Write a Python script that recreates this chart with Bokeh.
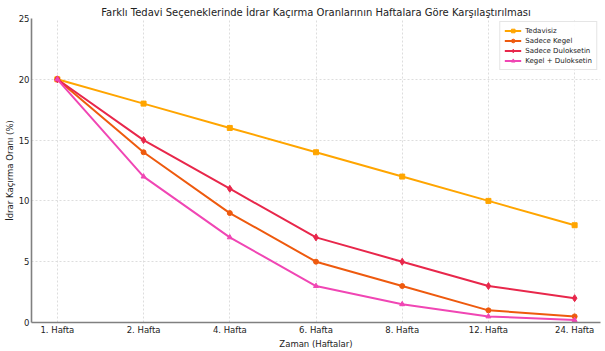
from bokeh.plotting import figure
from bokeh.models import FixedTicker, Range1d, Legend, LegendItem
from bokeh.embed import file_html
from bokeh.resources import INLINE

weeks = ["1. Hafta", "2. Hafta", "4. Hafta", "6. Hafta", "8. Hafta", "12. Hafta", "24. Hafta"]
tedavisiz = [20, 18, 16, 14, 12, 10, 8]
sadece_kegel = [20, 14, 9, 5, 3, 1, 0.5]
sadece_duloksetin = [20, 15, 11, 7, 5, 3, 2]
kegel_duloksetin = [20, 12, 7, 3, 1.5, 0.5, 0.2]

series = [
    ("Tedavisiz", tedavisiz, "#FFA500", "square"),
    ("Sadece Kegel", sadece_kegel, "#EE5A0E", "circle"),
    ("Sadece Duloksetin", sadece_duloksetin, "#E8274B", "diamond"),
    ("Kegel + Duloksetin", kegel_duloksetin, "#F046B4", "triangle"),
]

FONT = "DejaVu Sans"
xs = list(range(len(weeks)))

p = figure(width=605, height=351, output_backend="svg", toolbar_location=None,
           x_range=Range1d(-0.3, len(weeks) - 1 + 0.3), y_range=Range1d(0, 25),
           min_border_left=31, min_border_right=5, min_border_top=18, min_border_bottom=28)

p.title.text = "Farklı Tedavi Seçeneklerinde İdrar Kaçırma Oranlarının Haftalara Göre Karşılaştırılması"
p.title.align = "center"
p.title.text_font = FONT
p.title.text_font_size = "10px"
p.title.text_font_style = "normal"
p.title.text_color = "#222222"
p.title.standoff = 2

items = []
for name, vals, color, marker in series:
    r1 = p.line(xs, vals, line_color=color, line_width=2)
    r2 = p.scatter(xs, vals, marker=marker, size=5 if marker != "diamond" else 7,
                   fill_color=color, line_color=color)
    items.append(LegendItem(label=name, renderers=[r1, r2]))

legend = Legend(items=items, location="top_right")
legend.label_text_font = FONT
legend.label_text_font_size = "7px"
legend.label_text_color = "#222222"
legend.glyph_width = 17
legend.glyph_height = 9
legend.label_height = 9
legend.label_standoff = 4
legend.spacing = 1
legend.padding = 4
legend.margin = 3
legend.border_line_color = "#cccccc"
legend.background_fill_alpha = 0.9
p.add_layout(legend)

p.xaxis.ticker = FixedTicker(ticks=xs)
p.xaxis.major_label_overrides = {i: w for i, w in enumerate(weeks)}
p.yaxis.ticker = FixedTicker(ticks=[0, 5, 10, 15, 20, 25])
p.xaxis.axis_label = "Zaman (Haftalar)"
p.yaxis.axis_label = "İdrar Kaçırma Oranı (%)"

for ax in (p.xaxis[0], p.yaxis[0]):
    ax.axis_label_text_font = FONT
    ax.axis_label_text_font_size = "8.5px"
    ax.axis_label_text_font_style = "normal"
    ax.axis_label_text_color = "#222222"
    ax.major_label_text_font = FONT
    ax.major_label_text_font_size = "8.5px"
    ax.major_label_text_color = "#222222"
    ax.axis_line_color = "#808080"
    ax.axis_line_width = 1.6
    ax.major_tick_line_color = None
    ax.major_tick_out = 0
    ax.major_tick_in = 0
    ax.minor_tick_line_color = None
    ax.axis_label_standoff = 1
    ax.major_label_standoff = 2

p.xgrid.grid_line_color = "#dddddd"
p.ygrid.grid_line_color = "#dddddd"
p.xgrid.grid_line_dash = "2 2"
p.ygrid.grid_line_dash = "2 2"
p.outline_line_color = None

open("out.html", "w").write(file_html(p, INLINE))
